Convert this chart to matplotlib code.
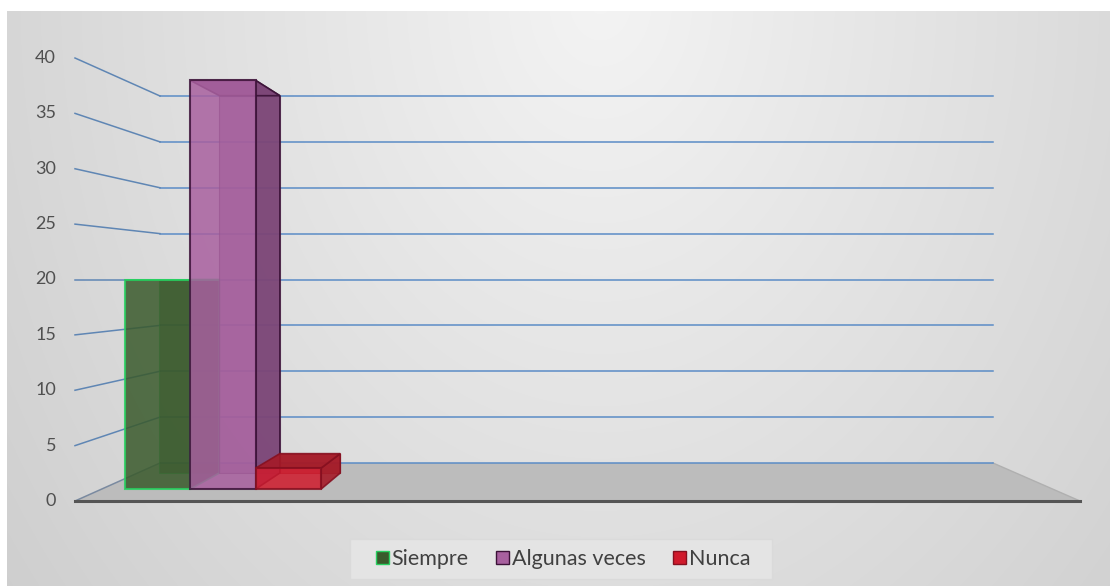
import numpy as np
import matplotlib.pyplot as plt
from matplotlib.patches import Polygon, Patch, Rectangle

categories = ["Siempre", "Algunas veces", "Nunca"]
values = [20, 39, 2]
y_ticks = [0, 5, 10, 15, 20, 25, 30, 35, 40]

face_colors = ["#3a5a2c", "#a8609f", "#d01a2c"]
side_colors = ["#34552a", "#7c4677", "#a51a27"]
edge_colors = ["#28d060", "#3c1238", "#861020"]

# front and back planes of the 3-D box (pixel space)
FX0, FX1, FY0, FS = 75, 1080, 501, 443 / 40
BX0, BX1, BY0, BS = 160, 993, 463, 367 / 40


def proj(u, v, w):
    # u: across the floor 0..1, v: value, w: depth 0 (front) .. 1 (back)
    x0 = FX0 + (BX0 - FX0) * w
    x1 = FX1 + (BX1 - FX1) * w
    y0 = FY0 + (BY0 - FY0) * w
    s = FS + (BS - FS) * w
    return x0 + u * (x1 - x0), y0 - v * s


fig = plt.figure(figsize=(11.10, 5.88), dpi=100)
ax = fig.add_axes([0, 0, 1, 1])
ax.set_xlim(0, 1110)
ax.set_ylim(588, 0)
ax.axis("off")

# chart area background: soft radial gradient, white margin around it
yy, xx = np.mgrid[11:586, 7:1110]
r = np.sqrt(((xx - 600) / 700) ** 2 + ((yy - 0) / 900) ** 2)
g = np.clip(0.955 - 0.135 * r, 0.78, 0.96)
ax.imshow(np.dstack([g, g, g]), extent=(7, 1110, 586, 11), zorder=0)

grid_col = "#5b8cc6"

# floor
floor = [proj(0, 0, 0), proj(1, 0, 0), proj(1, 0, 1), proj(0, 0, 1)]
ax.add_patch(Polygon(floor, closed=True, facecolor="#bcbcbc", edgecolor="none", zorder=1))
ax.plot(*zip(proj(1, 0, 0), proj(1, 0, 1)), color="#b0b0b0", lw=1, zorder=1)

# gridlines on back and left walls
for v in y_ticks:
    bx = [proj(0, v, 1)[0], proj(1, v, 1)[0]]
    by = [proj(0, v, 1)[1], proj(1, v, 1)[1]]
    ax.plot(bx, by, color=grid_col, lw=1.1, zorder=2)
    lx = [proj(0, v, 0)[0], proj(0, v, 1)[0]]
    ly = [proj(0, v, 0)[1], proj(0, v, 1)[1]]
    col = "#7a8aa0" if v == 0 else "#5f86b4"
    ax.plot(lx, ly, color=col, lw=1.1, zorder=2)
    tx, ty = proj(0, v, 0)
    ax.text(tx - 19, ty, str(v), ha="right", va="center", fontsize=13,
            color="#505050", family="Lato")

# front edge of the floor
ax.plot(*zip(proj(0, 0, 0), proj(1, 0, 0)), color="#555555", lw=2.2, zorder=2)

# bars
u0, bw = 0.0243, 0.0688
w0, w1 = 0.316, 0.737
for i, v in enumerate(values):
    ua, ub = u0 + i * bw, u0 + (i + 1) * bw
    back = [proj(ua, 0, w1), proj(ub, 0, w1), proj(ub, v, w1), proj(ua, v, w1)]
    right = [proj(ub, 0, w0), proj(ub, 0, w1), proj(ub, v, w1), proj(ub, v, w0)]
    top = [proj(ua, v, w0), proj(ub, v, w0), proj(ub, v, w1), proj(ua, v, w1)]
    front = [proj(ua, 0, w0), proj(ub, 0, w0), proj(ub, v, w0), proj(ua, v, w0)]
    z = 3 + i
    ax.add_patch(Polygon(back, facecolor=side_colors[i], edgecolor=edge_colors[i],
                         lw=0.8, alpha=0.6, zorder=z))
    ax.add_patch(Polygon(right, facecolor=side_colors[i], edgecolor=edge_colors[i],
                         lw=1.2, alpha=0.9, zorder=z))
    ax.add_patch(Polygon(top, facecolor=side_colors[i], edgecolor=edge_colors[i],
                         lw=1.2, alpha=0.9, zorder=z))
    ax.add_patch(Polygon(front, facecolor=face_colors[i], edgecolor=edge_colors[i],
                         lw=1.5, alpha=0.85, zorder=z))

# legend: box drawn separately, entries centred on it
ax.add_patch(Rectangle((350, 539), 422, 40, facecolor="#e4e4e4",
                       edgecolor="#dadada", lw=1, zorder=8))
handles = [Patch(facecolor=face_colors[i], edgecolor=edge_colors[i], label=c)
           for i, c in enumerate(categories)]
leg = ax.legend(handles=handles, loc="center", bbox_to_anchor=(563 / 1110, 29 / 588),
                ncol=3, frameon=False,
                prop={"family": "Lato", "size": 15.5},
                handlelength=0.6, handleheight=0.6, handletextpad=0.15,
                columnspacing=1.25, borderpad=0, borderaxespad=0)
leg.set_zorder(9)
for t in leg.get_texts():
    t.set_color("#404040")

fig.savefig("out.png", dpi=100)
